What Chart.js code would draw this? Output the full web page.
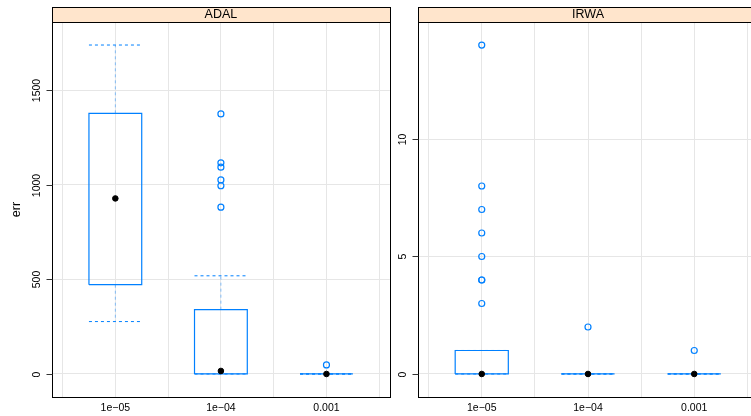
<!DOCTYPE html>
<html>
<head>
<meta charset="utf-8">
<script src="https://cdn.jsdelivr.net/npm/chart.js@4.4.0/dist/chart.umd.min.js"></script>
<style>
  html, body { margin: 0; padding: 0; background: #fff; }
  #wrap { position: relative; width: 751px; height: 416px; overflow: hidden; }
  canvas { position: absolute; top: 0; }
  #adal { left: 0; }
  #irwa { left: 370px; }
</style>
</head>
<body>
<div id="wrap">
  <canvas id="adal" width="395" height="416"></canvas>
  <canvas id="irwa" width="400" height="416"></canvas>
</div>
<script>
const categories = ['1e\u221205', '1e\u221204', '0.001'];

// ADAL panel
const adalLowerWhisker = [277, 0, 0];
const adalQ1 = [472, 0, 0];
const adalMedian = [928, 16, 0];
const adalQ3 = [1378, 340, 0];
const adalUpperWhisker = [1739, 519, 0];
const adalOutliers = [[], [882, 995, 1026, 1093, 1116, 1375], [48]];
const adalTicks = [0, 500, 1000, 1500];

// IRWA panel
const irwaLowerWhisker = [0, 0, 0];
const irwaQ1 = [0, 0, 0];
const irwaMedian = [0, 0, 0];
const irwaQ3 = [1, 0, 0];
const irwaUpperWhisker = [1, 0, 0];
const irwaOutliers = [[3, 4, 4, 5, 6, 7, 8, 14], [2], [1]];
const irwaTicks = [0, 5, 10];

const xGrid = [0.5, 1, 1.5, 2, 2.5, 3, 3.5];
const FONT = '"Liberation Sans", Arial, sans-serif';
const BLUE = '#0080ff';

// strip, panel border, y ticks and rotated y labels
const panelPlugin = {
  id: 'panel',
  afterDraw(chart, args, opts) {
    const ctx = chart.ctx;
    const a = chart.chartArea;
    const L = Math.round(a.left) + 0.5, T = Math.round(a.top) + 0.5;
    const W = Math.round(a.right - a.left), H = Math.round(a.bottom - a.top);
    ctx.save();
    ctx.fillStyle = '#ffe5cc';
    ctx.fillRect(L, 7.5, W, T - 7.5);
    ctx.strokeStyle = '#000';
    ctx.lineWidth = 1;
    ctx.strokeRect(L, 7.5, W, T - 7.5);
    ctx.strokeRect(L, T, W, H);

    ctx.fillStyle = '#000';
    ctx.font = '12.5px ' + FONT;
    ctx.textAlign = 'center';
    ctx.textBaseline = 'middle';
    ctx.fillText(opts.title, (a.left + a.right) / 2, 15);

    ctx.font = '10.5px ' + FONT;
    ctx.textBaseline = 'alphabetic';
    ctx.strokeStyle = '#333';
    opts.ticks.forEach(v => {
      const y = Math.round(chart.scales.y.getPixelForValue(v)) + 0.5;
      ctx.beginPath();
      ctx.moveTo(L - 6, y);
      ctx.lineTo(L, y);
      ctx.stroke();
      ctx.save();
      ctx.translate(a.left - 12, y);
      ctx.rotate(-Math.PI / 2);
      ctx.fillText(String(v), 0, 0);
      ctx.restore();
    });

    if (opts.ylab) {
      ctx.font = '12.5px ' + FONT;
      ctx.save();
      ctx.translate(20, (a.top + a.bottom) / 2);
      ctx.rotate(-Math.PI / 2);
      ctx.fillText(opts.ylab, 0, 0);
      ctx.restore();
    }
    ctx.restore();
  }
};

function buildDatasets(lo, q1, med, q3, hi, out) {
  const w = 0.25;
  const box = [], stem = [], caps = [], dots = [], circles = [];
  categories.forEach((c, i) => {
    const x = i + 1;
    box.push({x: x - w, y: q1[i]}, {x: x + w, y: q1[i]}, {x: x + w, y: q3[i]},
             {x: x - w, y: q3[i]}, {x: x - w, y: q1[i]}, {x: x, y: null});
    stem.push({x, y: q3[i]}, {x, y: hi[i]}, {x, y: null},
              {x, y: q1[i]}, {x, y: lo[i]}, {x, y: null});
    caps.push({x: x - w, y: hi[i]}, {x: x + w, y: hi[i]}, {x, y: null},
              {x: x - w, y: lo[i]}, {x: x + w, y: lo[i]}, {x, y: null});
    dots.push({x, y: med[i]});
    out[i].forEach(v => circles.push({x, y: v}));
  });
  return [
    { data: dots, showLine: false, pointRadius: 2.8, pointBorderWidth: 1,
      pointBackgroundColor: '#000', pointBorderColor: '#000' },
    { data: circles, showLine: false, pointRadius: 3, pointBorderWidth: 1.2,
      pointBackgroundColor: 'rgba(0,0,0,0)', pointBorderColor: BLUE },
    { data: box, showLine: true, pointRadius: 0, borderColor: BLUE, borderWidth: 1.2,
      spanGaps: false, fill: false },
    { data: caps, showLine: true, pointRadius: 0, borderColor: BLUE, borderWidth: 1,
      borderDash: [3, 3], spanGaps: false, fill: false },
    { data: stem, showLine: true, pointRadius: 0, borderColor: 'rgba(0,128,255,0.45)',
      borderWidth: 1, borderDash: [3, 3], spanGaps: false, fill: false }
  ];
}

function makePanel(id, title, ylab, axisWidth, padRight, ticks, lo, q1, med, q3, hi, out) {
  const all = lo.concat(hi, out.flat());
  const yMin = Math.min(...all), yMax = Math.max(...all);
  const pad = 0.07 * (yMax - yMin);
  new Chart(document.getElementById(id), {
    type: 'scatter',
    data: { datasets: buildDatasets(lo, q1, med, q3, hi, out) },
    options: {
      responsive: false,
      animation: false,
      events: [],
      layout: { padding: { top: 22, right: padRight, left: 0, bottom: 0 } },
      plugins: {
        legend: { display: false },
        tooltip: { enabled: false },
        panel: { title, ylab, ticks }
      },
      scales: {
        x: {
          type: 'linear', min: 0.4, max: 3.6,
          afterBuildTicks: s => { s.ticks = xGrid.map(v => ({ value: v })); },
          afterFit: s => { s.height = 19; },
          grid: { color: '#e6e6e6', drawTicks: false },
          border: { display: false },
          ticks: {
            padding: 5, color: '#000', font: { size: 10.5, family: FONT },
            autoSkip: false, maxRotation: 0,
            callback: v => Number.isInteger(v) ? categories[v - 1] : ''
          }
        },
        y: {
          type: 'linear', min: yMin - pad, max: yMax + pad,
          afterBuildTicks: s => { s.ticks = ticks.map(v => ({ value: v })); },
          afterFit: s => { s.width = axisWidth; },
          grid: { color: '#e6e6e6', drawTicks: false },
          border: { display: false },
          ticks: { display: false }
        }
      }
    },
    plugins: [panelPlugin]
  });
}

makePanel('adal', 'ADAL', 'err', 52, 3, adalTicks,
  adalLowerWhisker, adalQ1, adalMedian, adalQ3, adalUpperWhisker, adalOutliers);
makePanel('irwa', 'IRWA', null, 48, 12, irwaTicks,
  irwaLowerWhisker, irwaQ1, irwaMedian, irwaQ3, irwaUpperWhisker, irwaOutliers);
</script>
</body>
</html>
